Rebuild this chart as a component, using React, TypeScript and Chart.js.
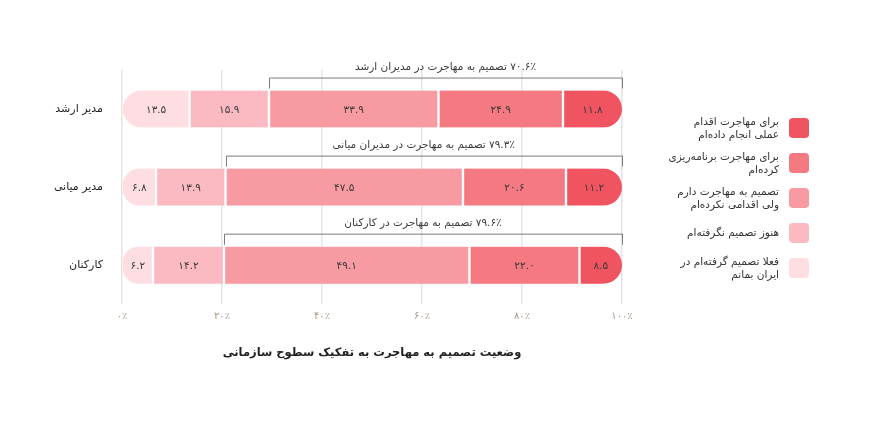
import { useEffect, useRef } from 'react';
import { Chart, registerables } from 'chart.js';

Chart.register(...registerables);

// categories (rows) and the group names used in the bracket captions
const levels = ['مدیر ارشد', 'مدیر میانی', 'کارکنان'];
const levelGroups = ['مدیران ارشد', 'مدیران میانی', 'کارکنان'];

// series values, percent of each row, stacked from left to right
const stayValues = [13.5, 6.8, 6.2];
const undecidedValues = [15.9, 13.9, 14.2];
const decidedValues = [33.9, 47.5, 49.1];
const plannedValues = [24.9, 20.6, 22.0];
const actedValues = [11.8, 11.2, 8.5];

const xTicks = [0, 20, 40, 60, 80, 100];

const seriesLabels = [
  ['فعلا تصمیم گرفته‌ام در', 'ایران بمانم'],
  ['هنوز تصمیم نگرفته‌ام'],
  ['تصمیم به مهاجرت دارم', 'ولی اقدامی نکرده‌ام'],
  ['برای مهاجرت برنامه‌ریزی', 'کرده‌ام'],
  ['برای مهاجرت اقدام', 'عملی انجام داده‌ام'],
];
const seriesValues = [stayValues, undecidedValues, decidedValues, plannedValues, actedValues];
const seriesColors = ['#FEDEE2', '#FBBAC1', '#F79AA1', '#F47981', '#F15461'];

const chartTitle = 'وضعیت تصمیم به مهاجرت به تفکیک سطوح سازمانی';
const FONT = "'DejaVu Sans', sans-serif";

const faDigits = '۰۱۲۳۴۵۶۷۸۹';
const toFa = (s: string) => s.replace(/\d/g, (d) => faDigits[+d]);
const fmt = (n: number) => toFa(n.toFixed(1));

// draws the numbers inside the bars and the migration brackets above them
const annotate = {
  id: 'annotate',
  afterDatasetsDraw(chart: Chart) {
    const ctx = chart.ctx;
    ctx.save();
    ctx.direction = 'rtl';
    ctx.textAlign = 'center';
    ctx.textBaseline = 'middle';
    ctx.font = `10.5px ${FONT}`;
    ctx.fillStyle = '#3a3a3a';
    chart.data.datasets.forEach((ds, i) => {
      chart.getDatasetMeta(i).data.forEach((el: any, j) => {
        const p = el.getCenterPoint();
        ctx.fillText(fmt(ds.data[j] as number), p.x, p.y + 1);
      });
    });

    const decidedMeta = chart.getDatasetMeta(2);
    const actedMeta = chart.getDatasetMeta(4);
    levels.forEach((_, j) => {
      const from: any = decidedMeta.data[j];
      const to: any = actedMeta.data[j];
      const x1 = from.base;
      const x2 = to.x;
      const top = from.y - from.height / 2;
      const yLine = top - 13;
      ctx.strokeStyle = '#7a7a7a';
      ctx.lineWidth = 1;
      ctx.beginPath();
      ctx.moveTo(Math.round(x1) + 0.5, top - 2);
      ctx.lineTo(Math.round(x1) + 0.5, yLine + 0.5);
      ctx.lineTo(Math.round(x2) + 0.5, yLine + 0.5);
      ctx.lineTo(Math.round(x2) + 0.5, top - 2);
      ctx.stroke();
      const total = decidedValues[j] + plannedValues[j] + actedValues[j];
      ctx.fillStyle = '#3a3a3a';
      ctx.font = `10.5px ${FONT}`;
      ctx.fillText(`${fmt(total)}٪ تصمیم به مهاجرت در ${levelGroups[j]}`, (x1 + x2) / 2, yLine - 10);
    });
    ctx.restore();
  },
};

function BarChart() {
  const canvasRef = useRef<HTMLCanvasElement | null>(null);

  useEffect(() => {
    if (!canvasRef.current) return;
    const last = seriesValues.length - 1;
    const chart = new Chart(canvasRef.current, {
      type: 'bar',
      data: {
        labels: levels,
        datasets: seriesValues.map((values, i) => ({
          label: seriesLabels[i].join(' '),
          data: values,
          backgroundColor: seriesColors[i],
          borderColor: '#ffffff',
          borderWidth: { left: i === 0 ? 0 : 1.5, right: i === last ? 0 : 1.5, top: 0, bottom: 0 },
          borderSkipped: false,
          borderRadius:
            i === 0
              ? { topLeft: 19, bottomLeft: 19, topRight: 0, bottomRight: 0 }
              : i === last
              ? { topLeft: 0, bottomLeft: 0, topRight: 19, bottomRight: 19 }
              : 0,
          barThickness: 37,
        })),
      },
      options: {
        indexAxis: 'y',
        responsive: false,
        animation: false,
        layout: { padding: { left: 42, right: 249, top: 70, bottom: 88 } },
        scales: {
          x: {
            stacked: true,
            min: 0,
            max: 100,
            afterBuildTicks: (scale: any) => {
              scale.ticks = xTicks.map((v) => ({ value: v }));
            },
            ticks: {
              callback: (v: any) => `${toFa(String(v))}٪`,
              color: '#a89888',
              padding: 6,
              font: { family: FONT, size: 10 },
            },
            grid: { color: '#e4e4e4', lineWidth: 1.5, drawTicks: false },
            border: { display: false },
          },
          y: {
            stacked: true,
            afterFit: (scale: any) => {
              scale.width = 80;
            },
            ticks: {
              color: '#1e1e1e',
              padding: 19,
              font: { family: FONT, size: 11 },
            },
            grid: { display: false, drawTicks: false },
            border: { display: false },
          },
        },
        plugins: {
          legend: { display: false },
          tooltip: { enabled: false },
          title: {
            display: true,
            text: chartTitle,
            position: 'bottom',
            fullSize: false,
            color: '#222',
            font: { family: FONT, size: 11.5, weight: 'bold' },
            padding: { top: 18, bottom: 0 },
          },
        },
      },
      plugins: [annotate],
    } as any);

    return () => chart.destroy();
  }, []);

  return <canvas ref={canvasRef} width={871} height={448} style={{ display: 'block' }} />;
}

export default function App() {
  useEffect(() => {
    document.body.style.margin = '0';
  }, []);

  const legendOrder = seriesLabels.map((_, i) => i).reverse();

  return (
    <div style={{ position: 'relative', width: 871, height: 448, background: '#fff', fontFamily: FONT }}>
      <BarChart />
      <div style={{ position: 'absolute', left: 660, top: 110, width: 149, direction: 'rtl' }}>
        {legendOrder.map((i) => (
          <div key={i} style={{ display: 'flex', alignItems: 'center', height: 35 }}>
            <span
              style={{
                width: 20,
                height: 20,
                borderRadius: 4,
                background: seriesColors[i],
                flex: '0 0 auto',
              }}
            />
            <span style={{ marginRight: 10, fontSize: 10.5, lineHeight: '13px', color: '#333' }}>
              {seriesLabels[i].map((line, k) => (
                <div key={k}>{line}</div>
              ))}
            </span>
          </div>
        ))}
      </div>
    </div>
  );
}
